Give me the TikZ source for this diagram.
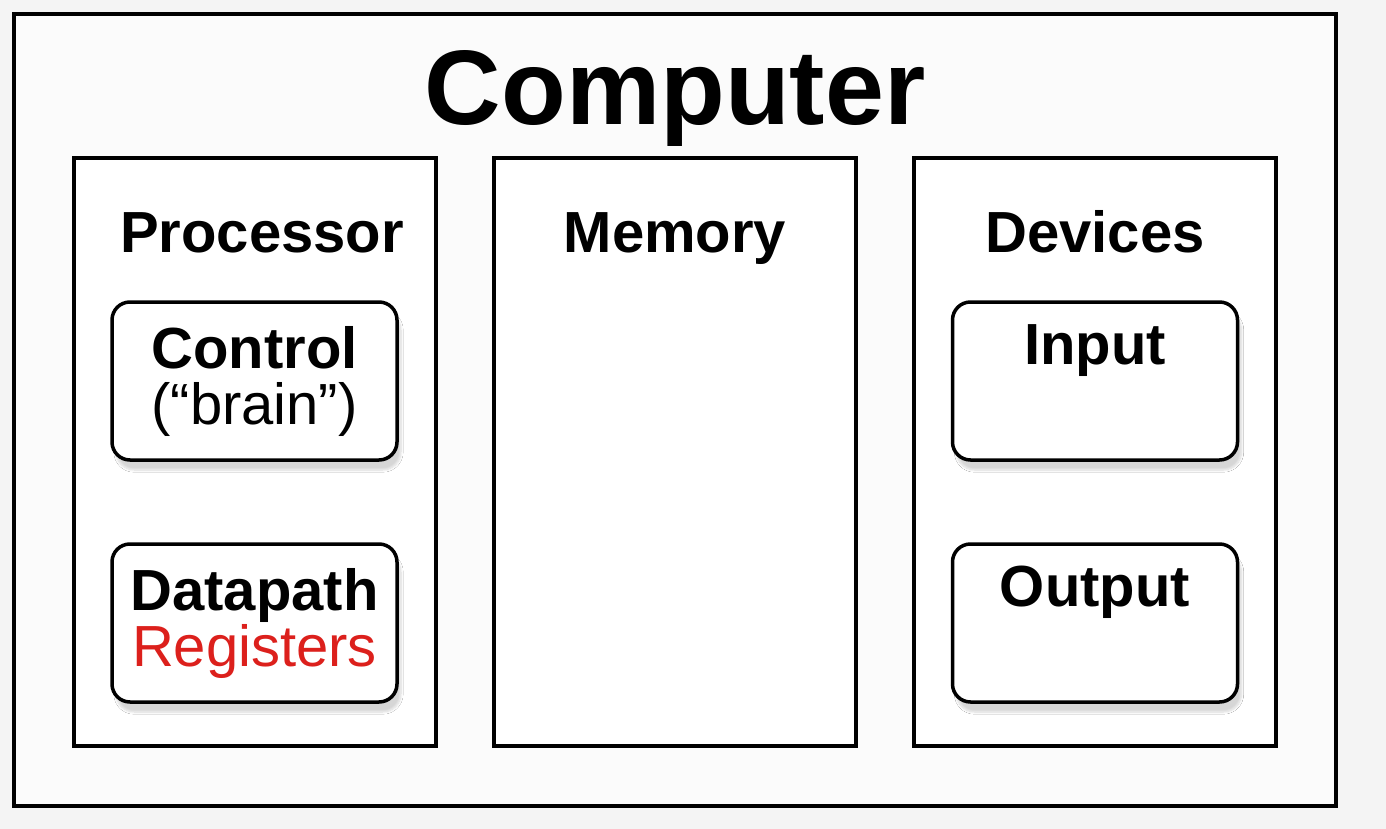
\documentclass[tikz,border=0pt]{standalone}
\usepackage{fontspec}
\setmainfont{Liberation Sans}
\usetikzlibrary{shadows.blur}
\definecolor{regred}{RGB}{220,32,28}

\begin{document}
\begin{tikzpicture}[x=1pt, y=-1pt,
  panel/.style={draw, line width=3.5pt, fill=white, minimum width=362pt, minimum height=588pt, inner sep=0pt},
  unit/.style={draw, line width=3.5pt, rounded corners=18pt, fill=white, minimum width=285pt, minimum height=158pt, align=center,
    font=\fontsize{58}{56}\selectfont\bfseries,
    blur shadow={shadow blur steps=8, shadow xshift=4pt, shadow yshift=-10pt, shadow opacity=16}},
  heading/.style={anchor=base, font=\fontsize{58}{56}\selectfont\bfseries}]
\useasboundingbox (0,0) rectangle (1386,829);
\fill[gray!9] (0,0) rectangle (1386,829);
\node[draw, line width=3.5pt, fill=gray!3, minimum width=1322pt, minimum height=792pt] (computer) at (675,410) {};
\node[anchor=base, font=\fontsize{106}{106}\selectfont\bfseries] (title) at (675,125) {Computer};
% the three columns
\node[panel] (proc) at (255,452) {};
\node[panel] (mem) at (675,452) {};
\node[panel] (dev) at (1095,452) {};
\node[heading] (proctitle) at (262,252) {Processor};
\node[heading] (memtitle) at (675,252) {Memory};
\node[heading] (devtitle) at (1095,252) {Devices};
% parts
\node[unit] (control) at (254.5,381) {Control\\\mdseries(“brain”)};
\node[unit] (datapath) at (254.5,623) {Datapath\\\mdseries\color{regred}Registers};
\node[unit] (input) at (1095,381) {Input\\\strut};
\node[unit] (output) at (1095,623) {Output\\\strut};
\end{tikzpicture}
\end{document}
